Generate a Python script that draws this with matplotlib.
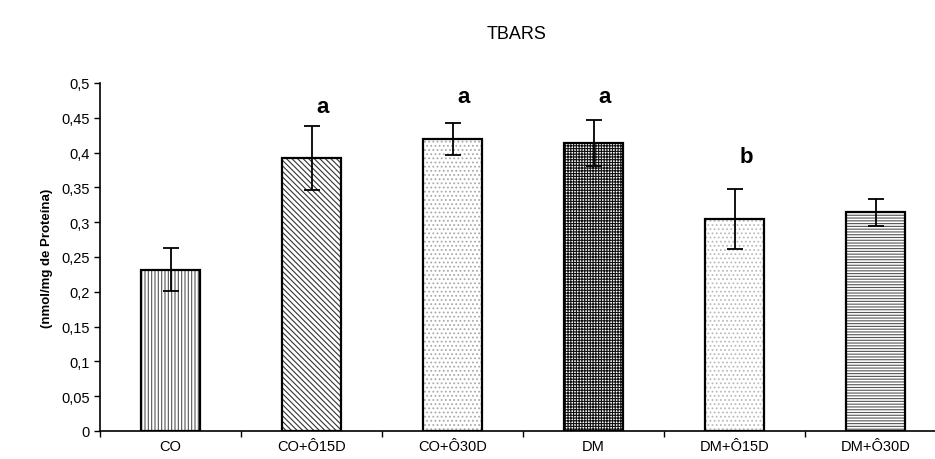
import numpy as np
import matplotlib
matplotlib.use("Agg")
import matplotlib.pyplot as plt
from matplotlib.ticker import FuncFormatter, MultipleLocator

plt.rcParams['font.family'] = ['Liberation Sans', 'DejaVu Sans']
plt.rcParams['hatch.linewidth'] = 0.8

# data
groups = ['CO', 'CO+Ô15D', 'CO+Ô30D', 'DM', 'DM+Ô15D', 'DM+Ô30D']
means = [0.232, 0.392, 0.420, 0.414, 0.305, 0.314]
errs = [0.031, 0.046, 0.023, 0.033, 0.043, 0.019]
letters = ['', 'a', 'a', 'a', 'b', '']
letter_y = [0, 0.466, 0.481, 0.481, 0.395, 0]

hatches = ['|||||', '\\\\\\\\\\\\', '....', '++++++', '....', '------']
hatch_cols = ['#555555', '#333333', '#aaaaaa', '#111111', '#bbbbbb', '#555555']

fig = plt.figure(figsize=(9.35, 4.6), dpi=100)
ax = fig.add_axes([0.107, 0.0609, 0.905, 0.7565])

x = np.arange(len(groups))
for i in range(len(groups)):
    ax.bar(x[i], means[i], width=0.42, color='white', hatch=hatches[i],
           edgecolor=hatch_cols[i], linewidth=0, zorder=2)
    ax.bar(x[i], means[i], width=0.42, fill=False, edgecolor='black',
           linewidth=1.6, zorder=3)
ax.errorbar(x, means, yerr=errs, fmt='none', ecolor='black', elinewidth=1.3,
            capsize=6, capthick=1.3, zorder=4)

for i in range(len(groups)):
    if letters[i]:
        ax.text(x[i] + 0.08, letter_y[i], letters[i], ha='center', va='center',
                fontsize=16, fontweight='bold')

ax.set_xlim(-0.5, len(groups) - 0.5)
ax.set_ylim(0, 0.5)
ax.yaxis.set_major_locator(MultipleLocator(0.05))
ax.yaxis.set_major_formatter(FuncFormatter(
    lambda v, p: ('%g' % round(v, 2)).replace('.', ',')))
ax.set_xticks(x)
ax.set_xticklabels(groups, fontsize=10.5)
ax.set_xticks(np.arange(-0.5, len(groups), 1), minor=True)
ax.tick_params(axis='x', which='major', length=0, pad=6)
ax.tick_params(axis='x', which='minor', length=4, width=1, direction='out')
ax.tick_params(axis='y', labelsize=10.5, length=4, width=1, direction='out')

for s in ['top', 'right']:
    ax.spines[s].set_visible(False)
ax.spines['left'].set_linewidth(1.2)
ax.spines['bottom'].set_linewidth(1.2)

ax.set_ylabel('(nmol/mg de Proteína)', fontsize=9.5, fontweight='bold', labelpad=6)
fig.text(0.553, 0.925, 'TBARS', ha='center', va='center', fontsize=13)

fig.savefig('out.png', dpi=100)
